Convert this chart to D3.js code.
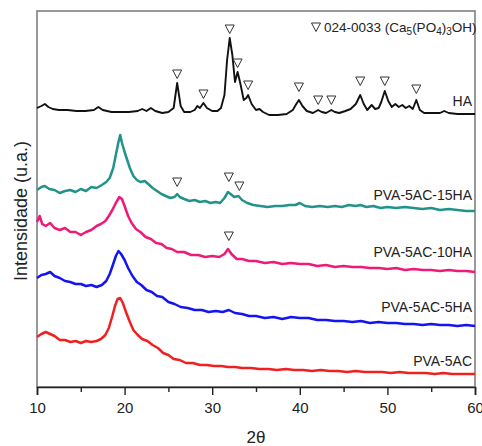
<!DOCTYPE html>
<html>
<head>
<meta charset="utf-8">
<script src="https://cdn.jsdelivr.net/npm/d3@7"></script>
<style>
body { margin: 0; background: #fff; }
svg { display: block; }
text { font-family: "Liberation Sans", Arial, sans-serif; fill: #222; }
</style>
</head>
<body>
<svg id="chart" width="482" height="446"></svg>
<script>
// XRD patterns, [2theta, intensity (a.u., offset stacked)]
var ha = [[10.0,279],[10.5,281],[10.9,283],[11.3,280],[11.8,278],[12.5,277],[13.5,277],[14.5,276],[15.5,276],[16.5,277],[17.0,280],[17.5,277],[18.5,275],[19.5,275],[20.5,275],[21.5,276],[22.0,278],[22.5,276],[23.0,279],[23.5,276],[24.3,274],[25.0,275],[25.6,279],[26.0,304],[26.4,281],[26.8,275],[27.5,275],[28.0,277],[28.3,281],[28.6,279],[29.0,284],[29.4,279],[30.0,276],[30.6,276],[31.0,279],[31.4,292],[31.7,327],[32.0,349],[32.3,332],[32.6,305],[32.9,315],[33.2,304],[33.6,287],[33.9,289],[34.1,292],[34.5,283],[35.0,277],[35.4,278],[35.8,275],[36.5,272],[37.5,272],[38.5,273],[39.2,277],[39.6,283],[39.9,287],[40.3,281],[40.8,276],[41.5,274],[42.1,277],[42.5,275],[43.0,274],[43.6,277],[44.0,275],[44.5,274],[45.2,276],[45.8,278],[46.4,283],[46.9,292],[47.3,283],[47.7,277],[48.2,282],[48.6,278],[49.0,279],[49.3,285],[49.7,296],[50.1,286],[50.5,280],[50.9,283],[51.3,280],[51.7,282],[52.1,279],[52.5,281],[52.9,278],[53.3,287],[53.7,277],[54.2,274],[55.0,274],[56.0,274],[56.5,276],[57.0,274],[58.0,273],[59.0,273],[60.0,273]];

var pva15ha = [[10.0,197],[10.5,200],[10.9,201],[11.4,198],[12.0,197],[12.6,194],[13.2,196],[13.8,197],[14.4,195],[15.0,198],[15.6,196],[16.2,200],[16.8,199],[17.4,202],[17.9,205],[18.3,209],[18.7,219],[19.0,232],[19.3,245],[19.5,252],[19.7,244],[20.0,235],[20.3,227],[20.6,219],[21.0,211],[21.4,207],[21.8,205],[22.3,206],[22.7,203],[23.2,199],[23.7,196],[24.2,193],[24.7,191],[25.2,189],[25.7,190],[26.0,193],[26.3,190],[26.8,188],[27.4,186],[28.0,187],[28.6,185],[29.2,186],[29.8,184],[30.4,185],[30.9,184],[31.4,189],[31.8,195],[32.1,193],[32.5,190],[33.0,191],[33.4,187],[34.0,184],[34.7,182],[35.5,181],[36.3,180],[37.2,181],[38.0,181],[38.8,182],[39.5,182],[40.0,184],[40.6,181],[41.4,180],[42.3,181],[43.2,180],[44.0,181],[44.8,180],[45.6,182],[46.4,181],[46.9,182],[47.6,180],[48.4,181],[49.2,179],[50.0,180],[51.0,179],[52.0,180],[53.0,179],[54.0,178],[55.0,179],[56.0,177],[57.0,178],[58.0,177],[59.0,176],[60.0,176]];

var pva10ha = [[10.0,165],[10.3,171],[10.6,163],[11.0,161],[11.5,164],[12.0,159],[12.6,157],[13.2,159],[13.8,155],[14.4,155],[15.0,152],[15.6,155],[16.2,157],[16.8,161],[17.3,163],[17.8,166],[18.2,171],[18.6,177],[19.0,184],[19.4,190],[19.7,188],[20.0,181],[20.4,171],[20.8,164],[21.3,158],[21.8,155],[22.4,150],[23.0,148],[23.6,144],[24.2,143],[24.8,139],[25.4,138],[26.0,135],[26.8,135],[27.6,132],[28.4,132],[29.2,130],[30.0,131],[30.8,130],[31.4,133],[31.8,138],[32.2,133],[32.8,128],[33.4,128],[34.2,126],[35.0,126],[36.0,124],[37.0,125],[38.0,123],[39.0,124],[40.0,123],[41.0,123],[42.0,121],[43.0,122],[44.0,120],[45.0,121],[46.0,120],[47.0,120],[48.0,119],[49.0,119],[50.0,118],[51.0,119],[52.0,117],[53.0,118],[54.0,117],[55.0,117],[56.0,116],[57.0,117],[58.0,116],[59.0,116],[60.0,115]];

var pva5ha = [[10.0,109],[10.5,112],[11.0,113],[11.5,115],[12.0,111],[12.6,109],[13.2,106],[13.8,105],[14.4,103],[15.0,103],[15.6,101],[16.2,102],[16.8,100],[17.4,102],[17.9,106],[18.3,113],[18.7,123],[19.0,131],[19.3,136],[19.6,133],[20.0,127],[20.4,119],[20.9,111],[21.4,105],[21.9,102],[22.5,97],[23.1,95],[23.7,91],[24.3,90],[25.0,85],[25.7,83],[26.4,80],[27.2,79],[28.0,77],[28.8,77],[29.6,75],[30.4,76],[31.2,75],[31.9,77],[32.6,74],[33.4,73],[34.2,71],[35.0,71],[36.0,69],[37.0,70],[38.0,68],[39.0,70],[40.0,69],[41.0,69],[42.0,67],[43.0,67],[44.0,66],[45.0,66],[46.0,65],[47.0,66],[48.0,64],[49.0,65],[50.0,64],[51.0,64],[52.0,63],[53.0,63],[54.0,62],[55.0,63],[56.0,62],[57.0,62],[58.0,61],[59.0,62],[60.0,61]];

var pva5ac = [[10.0,50],[10.5,53],[11.0,55],[11.5,53],[12.0,51],[12.6,47],[13.2,47],[13.8,45],[14.4,46],[15.0,44],[15.6,46],[16.2,45],[16.8,46],[17.3,48],[17.8,52],[18.2,59],[18.6,71],[18.9,81],[19.2,88],[19.5,89],[19.8,84],[20.2,74],[20.6,65],[21.0,57],[21.5,52],[22.0,48],[22.6,46],[23.2,42],[23.8,39],[24.4,34],[25.0,32],[25.6,28],[26.3,27],[27.0,24],[27.8,24],[28.6,22],[29.4,22],[30.2,21],[31.0,21],[31.8,20],[32.6,20],[33.4,19],[34.4,19],[35.4,18],[36.4,18],[37.4,17],[38.4,18],[39.4,17],[40.4,17],[41.4,16],[42.4,17],[43.4,16],[44.4,16],[45.4,15],[46.4,16],[47.4,15],[48.4,15],[49.4,15],[50.4,14],[51.4,15],[52.4,14],[53.4,14],[54.4,14],[55.4,13],[56.4,14],[57.4,13],[58.4,13],[59.4,13],[60.0,13]];

// hydroxyapatite reflections (JCPDS 024-0033): [2theta, marker level]
var haPeaks = [[26.0,313],[29.0,293],[32.0,358],[32.9,324],[34.1,302],[39.9,300],[42.1,287],[43.6,287],[46.9,306],[49.7,306],[53.3,298]];
var pva15haPeaks = [[26.0,205],[31.9,210],[33.1,201]];
var pva10haPeaks = [[31.9,151]];

var seriesNames = ["HA", "PVA-5AC-15HA", "PVA-5AC-10HA", "PVA-5AC-5HA", "PVA-5AC"];
var seriesColors = ["#111111", "#22938a", "#ee1a78", "#1414f0", "#ee2020"];
var labelLevels = [281, 187, 130, 75, 21];
var xTicks = [10, 20, 30, 40, 50, 60];
var xMinorTicks = [15, 25, 35, 45, 55];

var svg = d3.select("#chart");
var plotL = 37, plotR = 475, plotT = 11, plotB = 387;

var x = d3.scaleLinear().domain([10, 60]).range([plotL, plotR]);
var y = d3.scaleLinear().domain([0, 376]).range([plotB, plotT]);

var series = [ha, pva15ha, pva10ha, pva5ha, pva5ac].map(function(d, i) {
  return {name: seriesNames[i], data: d, color: seriesColors[i], level: labelLevels[i]};
});

// frame
svg.append("rect")
  .attr("x", plotL).attr("y", plotT)
  .attr("width", plotR - plotL).attr("height", plotB - plotT)
  .attr("fill", "none")
  .attr("stroke", "#808080")
  .attr("stroke-width", 1.6);

var line = d3.line()
  .x(function(d) { return x(d[0]); })
  .y(function(d) { return y(d[1]); });

svg.append("g").selectAll("path")
  .data(series)
  .enter().append("path")
  .attr("d", function(d) { return line(d.data); })
  .attr("fill", "none")
  .attr("stroke", function(d) { return d.color; })
  .attr("stroke-width", function(d, i) { return i == 0 ? 1.9 : 2.5; })
  .attr("stroke-linejoin", "round");

// series labels
svg.append("g").selectAll("text")
  .data(series)
  .enter().append("text")
  .attr("x", 472)
  .attr("y", function(d) { return y(d.level); })
  .attr("text-anchor", "end")
  .attr("font-size", 14)
  .text(function(d) { return d.name; });

// open down-pointing triangles
function tri(cx, cy) {
  return "M" + (cx - 4.5) + "," + (cy - 4) + "L" + (cx + 4.5) + "," + (cy - 4) +
    "L" + cx + "," + (cy + 4.5) + "Z";
}
var marks = haPeaks.concat(pva15haPeaks, pva10haPeaks);
svg.append("g").selectAll("path")
  .data(marks)
  .enter().append("path")
  .attr("d", function(d) { return tri(x(d[0]), y(d[1])); })
  .attr("fill", "#fff")
  .attr("stroke", "#333")
  .attr("stroke-width", 1);

// phase legend
svg.append("path")
  .attr("d", tri(316, 27))
  .attr("fill", "#fff")
  .attr("stroke", "#333")
  .attr("stroke-width", 1);

var leg = svg.append("text")
  .attr("x", 324).attr("y", 32)
  .attr("font-size", 13.5);
leg.append("tspan").text("024-0033 (Ca");
leg.append("tspan").attr("font-size", 10).attr("dy", 3).text("5");
leg.append("tspan").attr("dy", -3).text("(PO");
leg.append("tspan").attr("font-size", 10).attr("dy", 3).text("4");
leg.append("tspan").attr("dy", -3).text(")");
leg.append("tspan").attr("font-size", 10).attr("dy", 3).text("3");
leg.append("tspan").attr("dy", -3).text("OH)");

// bottom axis
var xAxis = d3.axisBottom(x)
  .tickValues(xTicks)
  .tickSize(8)
  .tickPadding(7)
  .tickFormat(d3.format("d"));

var gx = svg.append("g")
  .attr("transform", "translate(0," + plotB + ")")
  .call(xAxis);
gx.select(".domain").attr("stroke", "#222").attr("stroke-width", 1.6);
gx.selectAll(".tick line").attr("stroke", "#222").attr("stroke-width", 1.4);
gx.selectAll(".tick text")
  .attr("font-size", 15)
  .attr("font-family", "Liberation Sans, Arial, sans-serif")
  .attr("fill", "#222");

svg.append("g")
  .attr("transform", "translate(0," + plotB + ")")
  .call(d3.axisBottom(x).tickValues(xMinorTicks).tickSize(5).tickFormat(""))
  .call(function(g) {
    g.select(".domain").remove();
    g.selectAll("line").attr("stroke", "#222").attr("stroke-width", 1.4);
  });

// axis titles
svg.append("text")
  .attr("x", 256).attr("y", 443)
  .attr("text-anchor", "middle")
  .attr("font-size", 17)
  .text("2θ");

svg.append("text")
  .attr("transform", "translate(27,211) rotate(-90)")
  .attr("text-anchor", "middle")
  .attr("font-size", 18)
  .text("Intensidade (u.a.)");
</script>
</body>
</html>
